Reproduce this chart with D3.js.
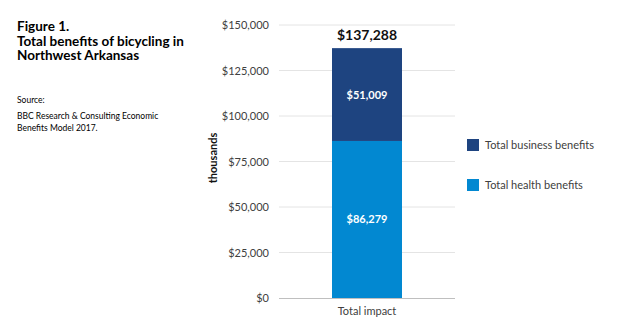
<!DOCTYPE html>
<html><head><meta charset="utf-8">
<script src="https://cdn.jsdelivr.net/npm/d3@7"></script>
<style>body{margin:0;background:#fff}svg{display:block}</style>
</head><body>
<svg id="c" width="631" height="332"></svg>
<script>
const categories = ["Total impact"];
const seriesNames = ["Total health benefits", "Total business benefits"];
const healthValues = [86279];
const businessValues = [51009];
const totals = [137288];
const yTicks = [0, 25000, 50000, 75000, 100000, 125000, 150000];
const colors = ["#0288d1", "#1e4480"];

const font = "Lato, 'Open Sans', sans-serif";
const svg = d3.select("#c");
const x = d3.scaleBand().domain(categories).range([279, 455]).paddingInner(0).paddingOuter(0.3);
const y = d3.scaleLinear().domain([0, 150000]).range([298, 25]);
const barW = 70;

// gridlines
svg.append("g").selectAll("line").data(yTicks.filter(d => d > 0)).join("line")
  .attr("x1", 279).attr("x2", 455).attr("y1", d => y(d)).attr("y2", d => y(d))
  .attr("stroke", "#e4e4e4").attr("stroke-width", 1);

// y axis
const yAxis = d3.axisLeft(y).tickValues(yTicks).tickSize(0).tickPadding(10)
  .tickFormat(d => "$" + d3.format(",")(d));
const gy = svg.append("g").attr("transform", "translate(279,0)").call(yAxis);
gy.select(".domain").remove();
gy.selectAll("text").attr("font-family", font).attr("font-size", 11).attr("fill", "#404040");

// stacked data
const rows = categories.map((c, i) => ({cat: c, health: healthValues[i], business: businessValues[i]}));
const stack = d3.stack().keys(["health", "business"])(rows);
svg.append("g").selectAll("g").data(stack).join("g").attr("fill", (d, i) => colors[i])
  .selectAll("rect").data(d => d).join("rect")
  .attr("x", d => x(d.data.cat) + x.bandwidth() / 2 - barW / 2)
  .attr("width", barW)
  .attr("y", d => y(d[1]))
  .attr("height", d => y(d[0]) - y(d[1]));

// inner labels
stack.forEach((s, i) => {
  svg.append("g").selectAll("text").data(s).join("text")
    .attr("x", d => x(d.data.cat) + x.bandwidth() / 2)
    .attr("y", d => (y(d[0]) + y(d[1])) / 2 + 4)
    .attr("text-anchor", "middle").attr("font-family", font).attr("font-size", 11)
    .attr("font-weight", "bold").attr("fill", "#fff")
    .text(d => "$" + d3.format(",")(d[1] - d[0]));
});

// totals
svg.append("g").selectAll("text").data(categories).join("text")
  .attr("x", d => x(d) + x.bandwidth() / 2)
  .attr("y", (d, i) => y(totals[i]) - 8)
  .attr("text-anchor", "middle").attr("font-family", font).attr("font-size", 14)
  .attr("font-weight", "bold").attr("fill", "#111")
  .text((d, i) => "$" + d3.format(",")(totals[i]));

// x axis
const xAxis = d3.axisBottom(x).tickSize(0).tickPadding(9);
const gx = svg.append("g").attr("transform", "translate(0,298)").call(xAxis);
gx.select(".domain").attr("stroke", "#bfbfbf").attr("d", "M279,0.5H455");
gx.selectAll("text").attr("font-family", font).attr("font-size", 11).attr("fill", "#404040");

// y title
svg.append("text").attr("transform", "translate(217,158) rotate(-90)")
  .attr("text-anchor", "middle").attr("font-family", font).attr("font-size", 11)
  .attr("font-weight", "bold").attr("fill", "#111").text("thousands");

// legend
const legendItems = [{name: seriesNames[1], color: colors[1]}, {name: seriesNames[0], color: colors[0]}];
const lg = svg.append("g").selectAll("g").data(legendItems).join("g")
  .attr("transform", (d, i) => `translate(467,${139 + i * 40})`);
lg.append("rect").attr("width", 12).attr("height", 12).attr("fill", d => d.color);
lg.append("text").attr("x", 18).attr("y", 10).attr("font-family", font).attr("font-size", 11)
  .attr("fill", "#404040").text(d => d.name);

// title block
const title = ["Figure 1.", "Total benefits of bicycling in", "Northwest Arkansas"];
svg.append("g").selectAll("text").data(title).join("text")
  .attr("x", 17).attr("y", (d, i) => 31 + i * 14.5)
  .attr("font-family", font).attr("font-size", 13.5).attr("font-weight", "bold").attr("fill", "#000")
  .text(d => d);
const src = [["Source:", 103], ["BBC Research & Consulting Economic", 119], ["Benefits Model 2017.", 131]];
svg.append("g").selectAll("text").data(src).join("text")
  .attr("x", 17).attr("y", d => d[1]).attr("font-family", font).attr("font-size", 8.5).attr("fill", "#000")
  .text(d => d[0]);
</script>
</body></html>
